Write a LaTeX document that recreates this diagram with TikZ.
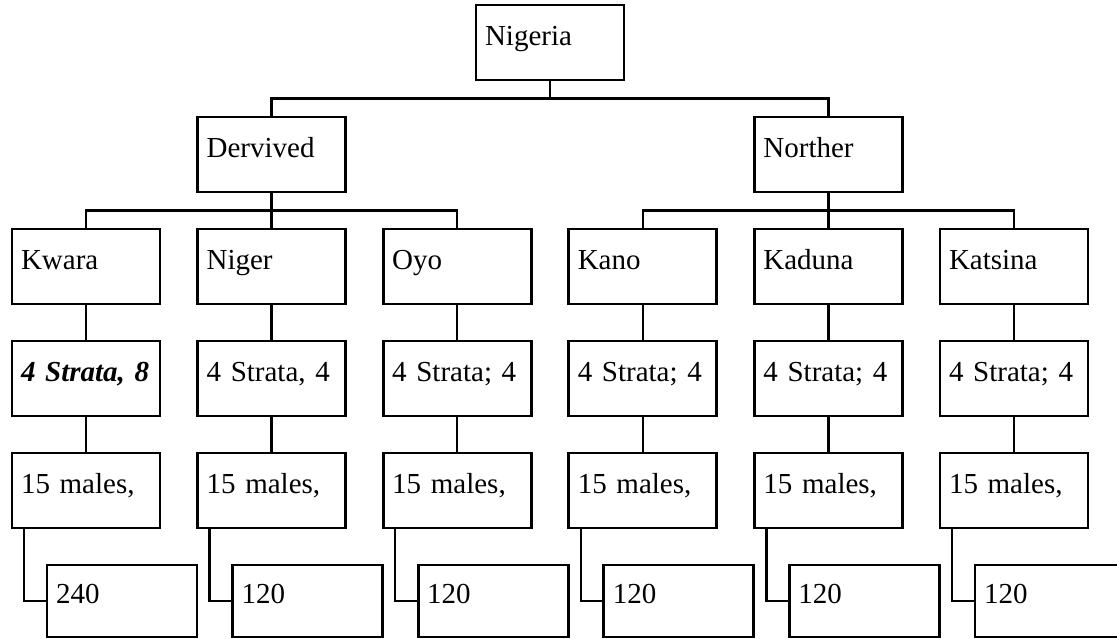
\documentclass[tikz,border=0pt]{standalone}
\usepackage{fontspec}
\setmainfont{Liberation Serif}
\usetikzlibrary{positioning}

\begin{document}
\begin{tikzpicture}[node distance=37pt]
    \tikzstyle{box}=[draw=black,line width=2.8pt,outer sep=0pt,text width=130pt,inner xsep=9pt,inner ysep=0pt,minimum height=75pt,align=left,text height=0.8em,text depth=0.25em,font=\fontsize{29}{34}\selectfont]
    \tikzstyle{small}=[box,text width=132pt,minimum height=72pt,anchor=north west]
    \tikzstyle{link}=[draw=black,line width=2.3pt]
    \useasboundingbox (0,0) rectangle (1117pt,-638pt);
    \clip (0,0) rectangle (1117pt,-638pt);

    \node[box]    (N)     at (550pt,-42.5pt)             {Nigeria};
    \node[box]    (D)     [below=of N,xshift=-278.4pt]   {Dervived};
    \node[box]    (R)     [below=of N,xshift=278.4pt]    {Norther};

    \node[box]    (niger)  [below=of D]                  {Niger};
    \node[box]    (kwara)  [left=37.6pt of niger]        {Kwara};
    \node[box]    (oyo)    [right=37.6pt of niger]       {Oyo};
    \node[box]    (kaduna) [below=of R]                  {Kaduna};
    \node[box]    (kano)   [left=37.6pt of kaduna]       {Kano};
    \node[box]    (katsina)[right=37.6pt of kaduna]      {Katsina};

    \node[box]    (kwaraS)   [below=of kwara]    {\textbf{\textit{4 Strata, 8}}};
    \node[box]    (nigerS)   [below=of niger]    {4 Strata, 4};
    \node[box]    (oyoS)     [below=of oyo]      {4 Strata; 4};
    \node[box]    (kanoS)    [below=of kano]     {4 Strata; 4};
    \node[box]    (kadunaS)  [below=of kaduna]   {4 Strata; 4};
    \node[box]    (katsinaS) [below=of katsina]  {4 Strata; 4};

    \node[box]    (kwaraM)   [below=of kwaraS]   {15 males,};
    \node[box]    (nigerM)   [below=of nigerS]   {15 males,};
    \node[box]    (oyoM)     [below=of oyoS]     {15 males,};
    \node[box]    (kanoM)    [below=of kanoS]    {15 males,};
    \node[box]    (kadunaM)  [below=of kadunaS]  {15 males,};
    \node[box]    (katsinaM) [below=of katsinaS] {15 males,};

    \node[small]  (kwaraT)   at ([xshift=35pt,yshift=-37pt]kwaraM.south west)   {240};
    \node[small]  (nigerT)   at ([xshift=35pt,yshift=-37pt]nigerM.south west)   {120};
    \node[small]  (oyoT)     at ([xshift=35pt,yshift=-37pt]oyoM.south west)     {120};
    \node[small]  (kanoT)    at ([xshift=35pt,yshift=-37pt]kanoM.south west)    {120};
    \node[small]  (kadunaT)  at ([xshift=35pt,yshift=-37pt]kadunaM.south west)  {120};
    \node[small]  (katsinaT) at ([xshift=35pt,yshift=-37pt]katsinaM.south west) {120};

    % buses
    \draw[link] (N.south) -- ++(0,-18.5pt) -| (D.north);
    \draw[link] (N.south) -- ++(0,-18.5pt) -| (R.north);
    \draw[link] (D.south) -- ++(0,-18.5pt) -| (kwara.north);
    \draw[link] (D.south) -- (niger.north);
    \draw[link] (D.south) -- ++(0,-18.5pt) -| (oyo.north);
    \draw[link] (R.south) -- ++(0,-18.5pt) -| (kano.north);
    \draw[link] (R.south) -- (kaduna.north);
    \draw[link] (R.south) -- ++(0,-18.5pt) -| (katsina.north);

    % columns
    \draw[link] (kwara) -- (kwaraS);      \draw[link] (kwaraS) -- (kwaraM);
    \draw[link] (niger) -- (nigerS);      \draw[link] (nigerS) -- (nigerM);
    \draw[link] (oyo) -- (oyoS);          \draw[link] (oyoS) -- (oyoM);
    \draw[link] (kano) -- (kanoS);        \draw[link] (kanoS) -- (kanoM);
    \draw[link] (kaduna) -- (kadunaS);    \draw[link] (kadunaS) -- (kadunaM);
    \draw[link] (katsina) -- (katsinaS);  \draw[link] (katsinaS) -- (katsinaM);

    % elbows
    \draw[link] ([xshift=12pt]kwaraM.south west) |- (kwaraT.west);
    \draw[link] ([xshift=12pt]nigerM.south west) |- (nigerT.west);
    \draw[link] ([xshift=12pt]oyoM.south west) |- (oyoT.west);
    \draw[link] ([xshift=12pt]kanoM.south west) |- (kanoT.west);
    \draw[link] ([xshift=12pt]kadunaM.south west) |- (kadunaT.west);
    \draw[link] ([xshift=12pt]katsinaM.south west) |- (katsinaT.west);
\end{tikzpicture}
\end{document}
